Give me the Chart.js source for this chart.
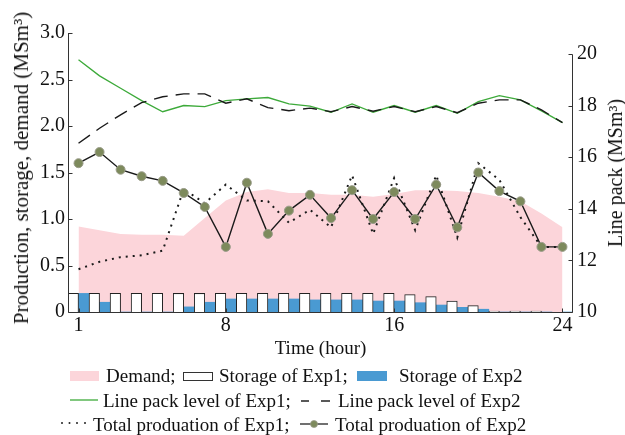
<!DOCTYPE html>
<html><head><meta charset="utf-8">
<script src="https://cdn.jsdelivr.net/npm/chart.js@4.4.1/dist/chart.umd.min.js"></script>
<style>
html,body{margin:0;padding:0;background:#fff;}
#wrap{position:relative;width:625px;height:435px;font-family:"Liberation Serif","Times New Roman",serif;color:#111;overflow:hidden;}
#c{position:absolute;left:0;top:0;}
.t{position:absolute;font-size:19px;line-height:22px;white-space:nowrap;}
.sw{position:absolute;box-sizing:border-box;}
#rt{position:absolute;left:615px;top:173px;transform:translate(-50%,-50%) rotate(-90deg);font-size:20px;line-height:22px;white-space:nowrap;}
#lt{position:absolute;left:21px;top:168px;transform:translate(-50%,-50%) rotate(-90deg);font-size:21px;line-height:22px;white-space:nowrap;}
</style></head><body>
<div id="wrap">
<canvas id="c" width="625" height="435"></canvas>
<div id="lt">Production, storage, demand (MSm³)</div>
<div id="rt">Line pack (MSm³)</div>

<div class="sw" style="left:70px;top:371px;width:29px;height:10px;background:#fcd5da;"></div>
<div class="t" style="left:106px;top:365px;">Demand;</div>
<div class="sw" style="left:183px;top:372px;width:30px;height:9px;border:1px solid #333;background:#fff;"></div>
<div class="t" style="left:219px;top:365px;">Storage of Exp1;</div>
<div class="sw" style="left:357px;top:371px;width:30px;height:10px;background:#4a9ad2;"></div>
<div class="t" style="left:399px;top:365px;">Storage of Exp2</div>

<svg class="sw" style="left:68px;top:395px;" width="32" height="10"><line x1="2" y1="5" x2="30" y2="5" stroke="#3daa3a" stroke-width="1.3"/></svg>
<div class="t" style="left:103px;top:390px;">Line pack level of Exp1;</div>
<svg class="sw" style="left:298px;top:396px;" width="36" height="10"><line x1="3" y1="5" x2="11" y2="5" stroke="#222" stroke-width="1.5"/><line x1="23" y1="5" x2="32" y2="5" stroke="#222" stroke-width="1.5"/></svg>
<div class="t" style="left:338px;top:390px;">Line pack level of Exp2</div>

<svg class="sw" style="left:58px;top:418px;" width="32" height="10"><g fill="#222"><circle cx="4" cy="5" r="1"/><circle cx="11.5" cy="5" r="1"/><circle cx="19" cy="5" r="1"/><circle cx="27" cy="5" r="1"/></g></svg>
<div class="t" style="left:93px;top:414px;">Total produation of Exp1;</div>
<svg class="sw" style="left:298px;top:418px;" width="34" height="12"><line x1="2" y1="6" x2="30" y2="6" stroke="#222" stroke-width="1.3"/><circle cx="16" cy="6" r="3.5" fill="#7d8a5c" stroke="#9a9c8a" stroke-width="0.8"/></svg>
<div class="t" style="left:335px;top:414px;">Total produation of Exp2</div>
</div>
<script>
const hours = ['1','2','3','4','5','6','7','8','9','10','11','12','13','14','15','16','17','18','19','20','21','22','23','24'];
const shownHours = ['1','8','16','24'];
const leftTicks = [0, 0.5, 1.0, 1.5, 2.0, 2.5, 3.0];
const rightTicks = [10, 12, 14, 16, 18, 20];

const demand = [0.92,0.88,0.84,0.83,0.83,0.82,1.01,1.20,1.29,1.32,1.28,1.28,1.26,1.26,1.24,1.27,1.31,1.31,1.30,1.28,1.24,1.19,1.06,0.91];
const storageExp1 = [0.2,0.2,0.2,0.2,0.2,0.2,0.2,0.2,0.2,0.2,0.2,0.2,0.2,0.2,0.2,0.2,0.186,0.165,0.118,0.068,0.01,0.01,0.01,0];
const storageExp2 = [0.20,0.105,0,0,0,0.055,0.105,0.14,0.14,0.14,0.14,0.13,0.13,0.13,0.118,0.118,0.10,0.075,0.05,0.03,0,0,0,0];
const linePackExp1 = [19.77,19.15,18.67,18.19,17.76,18.0,17.96,18.19,18.26,18.31,18.06,17.98,17.74,18.06,17.74,18.0,17.74,18.0,17.70,18.15,18.38,18.22,17.79,17.34];
const linePackExp2 = [16.54,17.12,17.64,18.11,18.34,18.45,18.45,18.09,18.26,17.92,17.80,17.90,17.76,17.96,17.78,17.96,17.76,17.96,17.72,18.09,18.22,18.22,17.83,17.34];
const productionExp1 = [0.46,0.54,0.59,0.61,0.66,1.32,1.17,1.37,1.20,1.19,0.96,1.10,0.91,1.47,0.84,1.44,0.88,1.47,0.80,1.60,1.42,1.02,0.70,0.70];
const productionExp2 = [1.60,1.72,1.53,1.46,1.41,1.28,1.13,0.70,1.39,0.84,1.09,1.26,1.01,1.31,1.00,1.29,1.00,1.37,0.91,1.50,1.30,1.19,0.70,0.70];

const FONT = '"Liberation Serif","Times New Roman",serif';

const axisDecor = {
  id: 'axisDecor',
  afterDraw(chart) {
    const {ctx, chartArea: a, scales: {x, y, y2}} = chart;
    ctx.save();
    ctx.strokeStyle = '#333';
    ctx.lineWidth = 1;
    ctx.beginPath();
    const xl = Math.round(a.left) + 0.5, xr = Math.round(a.right) - 0.5, yb = Math.round(a.bottom) + 0.5;
    ctx.moveTo(xl, a.top); ctx.lineTo(xl, yb);
    ctx.moveTo(xl, yb); ctx.lineTo(xr, yb);
    ctx.moveTo(xr, Math.round(y2.getPixelForValue(20)) + 0.5); ctx.lineTo(xr, yb);
    leftTicks.forEach(v => { const p = Math.round(y.getPixelForValue(v)) + 0.5; ctx.moveTo(xl, p); ctx.lineTo(xl + 4, p); });
    rightTicks.forEach(v => { const p = Math.round(y2.getPixelForValue(v)) + 0.5; ctx.moveTo(xr, p); ctx.lineTo(xr - 4, p); });
    shownHours.forEach(h => { const p = Math.round(x.getPixelForValue(hours.indexOf(h))) + 0.5; ctx.moveTo(p, yb); ctx.lineTo(p, yb - 4); });
    ctx.stroke();
    ctx.restore();
  }
};

new Chart(document.getElementById('c'), {
  type: 'bar',
  data: {
    labels: hours,
    datasets: [
      { type: 'line', label: 'Total produation of Exp2', data: productionExp2, yAxisID: 'y', order: 0,
        borderColor: '#1a1a1a', borderWidth: 1.4, tension: 0,
        pointRadius: 4.5, pointBackgroundColor: '#7d8a5c', pointBorderColor: '#9a9c8a', pointBorderWidth: 1 },
      { type: 'line', label: 'Total produation of Exp1', data: productionExp1, yAxisID: 'y', order: 0,
        borderColor: '#1a1a1a', borderWidth: 2, borderDash: [2, 5], tension: 0, pointRadius: 0 },
      { type: 'line', label: 'Line pack level of Exp2', data: linePackExp2, yAxisID: 'y2', order: 0,
        borderColor: '#1a1a1a', borderWidth: 1.4, borderDash: [14, 8], tension: 0, pointRadius: 0 },
      { type: 'line', label: 'Line pack level of Exp1', data: linePackExp1, yAxisID: 'y2', order: 0,
        borderColor: '#3daa3a', borderWidth: 1.3, tension: 0, pointRadius: 0 },
      { type: 'bar', label: 'Storage of Exp1', data: storageExp1, yAxisID: 'y', order: 1,
        backgroundColor: '#ffffff', borderColor: '#222', borderWidth: 1, borderSkipped: 'bottom',
        categoryPercentage: 1.0, barPercentage: 1.0 },
      { type: 'bar', label: 'Storage of Exp2', data: storageExp2, yAxisID: 'y', order: 1,
        backgroundColor: '#4a9ad2', borderWidth: 0,
        categoryPercentage: 1.0, barPercentage: 1.0 },
      { type: 'line', label: 'Demand', data: demand, yAxisID: 'y', order: 2,
        fill: 'origin', backgroundColor: '#fcd5da', borderWidth: 0, borderColor: 'rgba(0,0,0,0)', pointRadius: 0, tension: 0 }
    ]
  },
  options: {
    responsive: false,
    animation: false,
    devicePixelRatio: 1,
    layout: { padding: { top: 33, bottom: 73, left: 0, right: 0 } },
    plugins: { legend: { display: false }, tooltip: { enabled: false } },
    scales: {
      x: {
        type: 'category', offset: true,
        grid: { display: false, drawTicks: false }, border: { display: false },
        ticks: { autoSkip: false, maxRotation: 0, padding: 2, color: '#111',
          font: { family: FONT, size: 20 },
          callback: function(v, i) { return shownHours.includes(hours[i]) ? hours[i] : ''; } },
        title: { display: true, text: 'Time (hour)', color: '#111', font: { family: FONT, size: 19 }, padding: { top: 0, bottom: 2 } },
        afterFit: s => { s.height = 50; }
      },
      y: {
        position: 'left', min: 0, max: 3,
        grid: { display: false, drawTicks: false }, border: { display: false },
        afterBuildTicks: s => { s.ticks = leftTicks.map(v => ({ value: v })); },
        ticks: { padding: 3, color: '#111', font: { family: FONT, size: 20 },
          callback: v => v === 0 ? '0' : Number(v).toFixed(1) },
        title: { display: false },
        afterFit: s => { s.width = 68; }
      },
      y2: {
        position: 'right', min: 10, max: 20.81,
        grid: { display: false, drawTicks: false, drawOnChartArea: false }, border: { display: false },
        afterBuildTicks: s => { s.ticks = rightTicks.map(v => ({ value: v })); },
        ticks: { padding: 4, color: '#111', font: { family: FONT, size: 20 } },
        afterFit: s => { s.width = 52; }
      }
    }
  },
  plugins: [axisDecor]
});
</script>
</body></html>
